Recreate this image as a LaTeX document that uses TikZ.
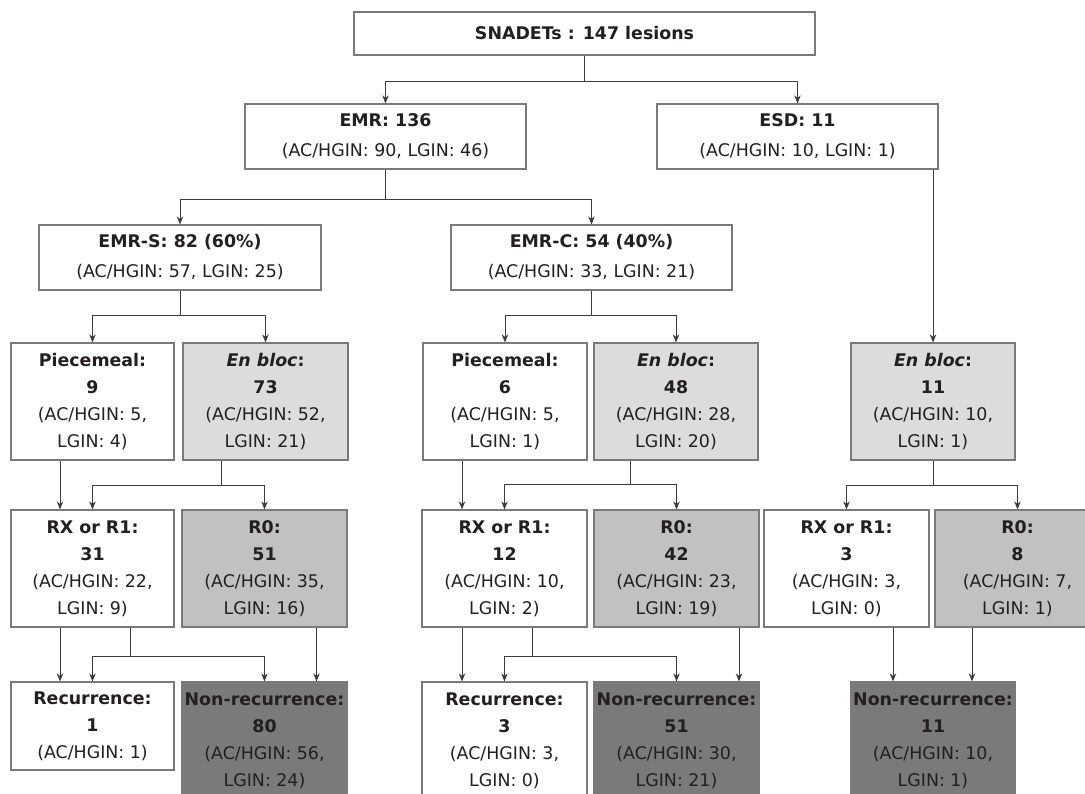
\documentclass[tikz,border=0pt]{standalone}
\usepackage{fontspec}
\setmainfont{DejaVu Sans}
\usetikzlibrary{arrows.meta}
\definecolor{txt}{HTML}{231F20}
\definecolor{bord}{HTML}{7A7A7A}
\definecolor{lne}{HTML}{3C3C3C}
\definecolor{fillA}{HTML}{DCDCDC}
\definecolor{fillB}{HTML}{C0C1C0}
\definecolor{fillC}{HTML}{7A7A7A}
\tikzset{
  bx/.style={draw=bord, line width=1.2pt, rectangle, inner sep=0pt, align=center,
    text=txt, font=\fontsize{17.4}{27}\selectfont},
  wide/.style={bx, minimum width=281pt, minimum height=65pt, font=\fontsize{17.4}{30}\selectfont},
  cell/.style={bx, minimum width=164pt, minimum height=117pt},
  lgA/.style={fill=fillA},
  lgB/.style={fill=fillB},
  dk/.style={fill=fillC},
  arr/.style={draw=lne, line width=1pt, -{Stealth[length=8pt,width=6.5pt,inset=2.5pt]}},
  ln/.style={draw=lne, line width=1pt}
}
\begin{document}
\begin{tikzpicture}[x=1pt,y=-1pt]
\useasboundingbox (0,0) rectangle (1085,794);
\fill[white] (0,0) rectangle (1085,794);
\clip (0,0) rectangle (1085,794);

% row 1
\node[bx, minimum width=461pt, minimum height=43pt] (top) at (584.5,33.5) {\textbf{SNADETs : 147 lesions}};
% row 2
\node[wide] (emr) at (385.5,136.5) {\textbf{EMR: 136}\\(AC/HGIN: 90, LGIN: 46)};
\node[wide] (esd) at (797.5,136.5) {\textbf{ESD: 11}\\(AC/HGIN: 10, LGIN: 1)};
% row 3
\node[wide, minimum width=282pt] (emrs) at (180,257.5) {\textbf{EMR-S: 82 (60\%)}\\(AC/HGIN: 57, LGIN: 25)};
\node[wide] (emrc) at (591.5,257.5) {\textbf{EMR-C: 54 (40\%)}\\(AC/HGIN: 33, LGIN: 21)};
% row 4
\node[cell, minimum width=163pt] (p1) at (92.5,401.5) {\textbf{Piecemeal:}\\\textbf{9}\\(AC/HGIN: 5,\\LGIN: 4)};
\node[cell, lgA, minimum width=165pt] (e1) at (265.5,401.5) {\textbf{\textit{En bloc}:}\\\textbf{73}\\(AC/HGIN: 52,\\LGIN: 21)};
\node[cell] (p2) at (505,401.5) {\textbf{Piecemeal:}\\\textbf{6}\\(AC/HGIN: 5,\\LGIN: 1)};
\node[cell, lgA] (e2) at (676,401.5) {\textbf{\textit{En bloc}:}\\\textbf{48}\\(AC/HGIN: 28,\\LGIN: 20)};
\node[cell, lgA] (e3) at (933,401.5) {\textbf{\textit{En bloc}:}\\\textbf{11}\\(AC/HGIN: 10,\\LGIN: 1)};
% row 5
\node[cell, minimum width=163pt] (rx1) at (92.5,568.5) {\textbf{RX or R1:}\\\textbf{31}\\(AC/HGIN: 22,\\LGIN: 9)};
\node[cell, lgB, minimum width=165pt] (r01) at (264.5,568.5) {\textbf{R0:}\\\textbf{51}\\(AC/HGIN: 35,\\LGIN: 16)};
\node[cell, minimum width=165pt] (rx2) at (504.5,568.5) {\textbf{RX or R1:}\\\textbf{12}\\(AC/HGIN: 10,\\LGIN: 2)};
\node[cell, lgB, minimum width=165pt] (r02) at (676.5,568.5) {\textbf{R0:}\\\textbf{42}\\(AC/HGIN: 23,\\LGIN: 19)};
\node[cell, minimum width=165pt] (rx3) at (846.5,568.5) {\textbf{RX or R1:}\\\textbf{3}\\(AC/HGIN: 3,\\LGIN: 0)};
\node[cell, lgB, minimum width=165pt] (r03) at (1017.5,568.5) {\textbf{R0:}\\\textbf{8}\\(AC/HGIN: 7,\\LGIN: 1)};
% row 6
\node[cell, minimum width=163pt, minimum height=88pt] (rec1) at (92.5,726) {\textbf{Recurrence:}\\\textbf{1}\\(AC/HGIN: 1)};
\node[cell, dk, minimum width=165pt] (nr1) at (264.5,740.5) {\textbf{Non-recurrence:}\\\textbf{80}\\(AC/HGIN: 56,\\LGIN: 24)};
\node[cell, minimum width=165pt] (rec2) at (504.5,740.5) {\textbf{Recurrence:}\\\textbf{3}\\(AC/HGIN: 3,\\LGIN: 0)};
\node[cell, dk, minimum width=165pt] (nr2) at (676.5,740.5) {\textbf{Non-recurrence:}\\\textbf{51}\\(AC/HGIN: 30,\\LGIN: 21)};
\node[cell, dk] (nr3) at (933,740.5) {\textbf{Non-recurrence:}\\\textbf{11}\\(AC/HGIN: 10,\\LGIN: 1)};

% connectors
\coordinate (j1) at ([yshift=-26pt]top.south);
\draw[ln] (top.south) -- (j1);
\draw[arr] (j1) -| (emr.north);
\draw[arr] (j1) -| (esd.north);

\coordinate (j2) at ([yshift=-30pt]emr.south);
\draw[ln] (emr.south) -- (j2);
\draw[arr] (j2) -| (emrs.north);
\draw[arr] (j2) -| (emrc.north);

\draw[arr] (esd.south -| e3.north) -- (e3.north);

\coordinate (j3) at ([yshift=-25pt]emrs.south);
\draw[ln] (emrs.south) -- (j3);
\draw[arr] (j3) -| (p1.north);
\draw[arr] (j3) -| (e1.north);

\coordinate (j4) at ([yshift=-25pt]emrc.south);
\draw[ln] (emrc.south) -- (j4);
\draw[arr] (j4) -| (p2.north);
\draw[arr] (j4) -| (e2.north);

% row 4 -> row 5
\draw[arr] ([xshift=-32.5pt]p1.south) -- ([xshift=-32.5pt]rx1.north);
\coordinate (j5) at ([xshift=-44.5pt,yshift=-25pt]e1.south);
\draw[ln] ([xshift=-44.5pt]e1.south) -- (j5);
\draw[arr] (j5) -| (rx1.north);
\draw[arr] (j5) -| (r01.north);

\draw[arr] ([xshift=-43pt]p2.south) -- ([xshift=-42.5pt]rx2.north);
\coordinate (j6) at ([xshift=-46pt,yshift=-24pt]e2.south);
\draw[ln] ([xshift=-46pt]e2.south) -- (j6);
\draw[arr] (j6) -| (rx2.north);
\draw[arr] (j6) -| (r02.north);

\coordinate (j7) at ([yshift=-25pt]e3.south);
\draw[ln] (e3.south) -- (j7);
\draw[arr] (j7) -| (rx3.north);
\draw[arr] (j7) -| (r03.north);

% row 5 -> row 6
\draw[arr] ([xshift=-32.5pt]rx1.south) -- ([xshift=-32.5pt]rec1.north);
\coordinate (j8) at ([xshift=37.5pt,yshift=-29pt]rx1.south);
\draw[ln] ([xshift=37.5pt]rx1.south) -- (j8);
\draw[arr] (j8) -| (rec1.north);
\draw[arr] (j8) -| (nr1.north);
\draw[arr] ([xshift=52pt]r01.south) -- ([xshift=52pt]nr1.north);

\draw[arr] ([xshift=-42.5pt]rx2.south) -- ([xshift=-42.5pt]rec2.north);
\coordinate (j9) at ([xshift=27.5pt,yshift=-29pt]rx2.south);
\draw[ln] ([xshift=27.5pt]rx2.south) -- (j9);
\draw[arr] (j9) -| (rec2.north);
\draw[arr] (j9) -| (nr2.north);
\draw[arr] ([xshift=62.5pt]r02.south) -- ([xshift=62.5pt]nr2.north);

\draw[arr] ([xshift=46.5pt]rx3.south) -- ([xshift=-40pt]nr3.north);
\draw[arr] ([xshift=-45.5pt]r03.south) -- ([xshift=39pt]nr3.north);
\end{tikzpicture}
\end{document}
